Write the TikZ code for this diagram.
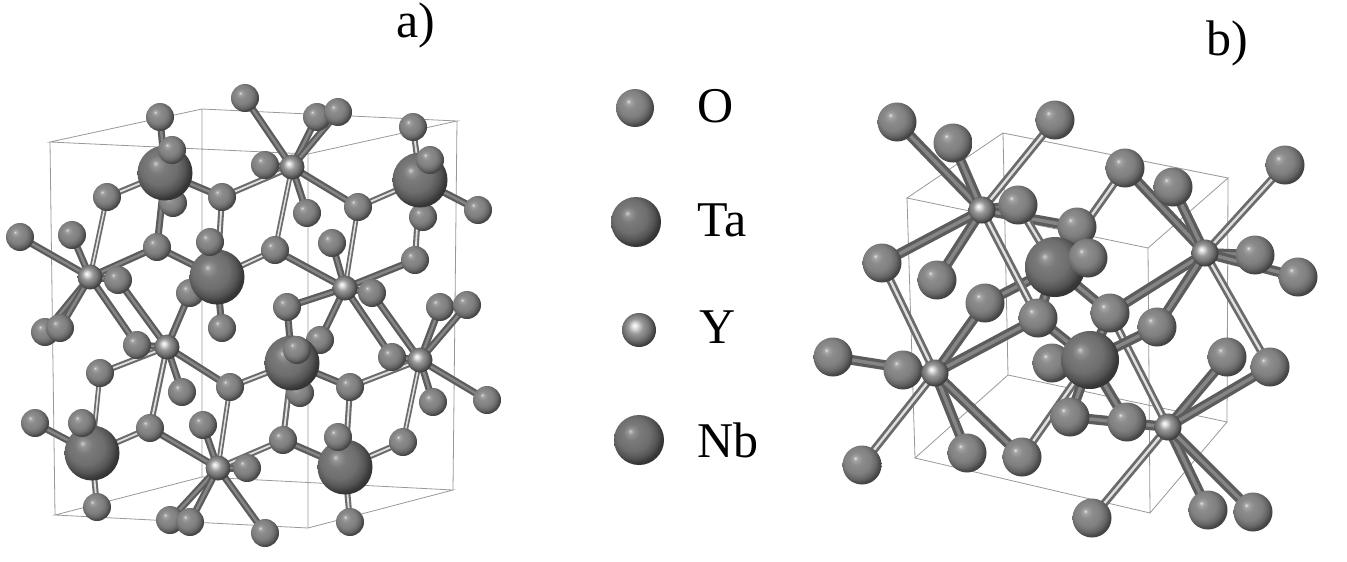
\documentclass[tikz,border=0pt]{standalone}
\usepackage{fontspec}
\setmainfont{Liberation Serif}
\pgfdeclareradialshading{oshade}{\pgfpoint{-9bp}{9bp}}{color(0bp)=(black!12); color(3bp)=(black!36); color(8bp)=(black!45); color(17bp)=(black!50); color(23bp)=(black!60); color(27bp)=(black!72); color(50bp)=(black)}
\pgfdeclareradialshading{bigshade}{\pgfpoint{-9bp}{9bp}}{color(0bp)=(black!20); color(3bp)=(black!42); color(8bp)=(black!52); color(17bp)=(black!57); color(23bp)=(black!67); color(27bp)=(black!78); color(50bp)=(black)}
\pgfdeclareradialshading{yshade}{\pgfpoint{-7bp}{7bp}}{color(0bp)=(white); color(4bp)=(black!12); color(11bp)=(black!40); color(19bp)=(black!55); color(24bp)=(black!68); color(28bp)=(black!80); color(50bp)=(black)}
\tikzset{
  oat/.style={circle,inner sep=0pt,minimum size=#1,shading=oshade},
  oat/.default=28pt,
  bigat/.style={circle,inner sep=0pt,minimum size=#1,shading=bigshade},
  bigat/.default=55pt,
  yat/.style={circle,inner sep=0pt,minimum size=#1,shading=yshade},
  yat/.default=25pt,
  bl/.style={line width=#1,draw=black!58,postaction={draw=black!12,line width=0.3*#1}},
  bl/.default=6pt,
  bd/.style={line width=#1,draw=black!64,postaction={draw=black!48,line width=0.35*#1}},
  bd/.default=7pt,
  cell/.style={draw=black!40,line width=0.8pt},
  lbl/.style={font=\fontsize{50}{60}\selectfont,anchor=base west,inner sep=0pt}
}
\begin{document}
\begin{tikzpicture}[x=1pt,y=-1pt]
\useasboundingbox (0,0) rectangle (1347,562);
\fill[white] (0,0) rectangle (1347,562);
% ================= panel a coordinates =================
\foreach \n/\x/\y in {A1/165/173,A2/217/277,A3/420/180,A4/292/363,A5/92/453,A6/345/467,
 Y1/292/167,Y2/90/277,Y3/345/288,Y4/167/347,Y5/420/360,Y6/218/468,
 o1/160/117,o2/245/98,o3/317/117,o4/338/112,o5/413/127,o6/172/150,o7/107/197,o8/222/197,
 o9/265/165,o10/307/213,o11/358/207,o12/430/160,o13/423/217,o14/478/210,o15/20/237,o16/72/235,
 o17/157/247,o18/210/242,o19/275/250,o20/332/243,o21/415/260,o22/118/280,o23/173/203,o24/190/293,
 o25/222/328,o26/45/332,o27/60/328,o28/287/307,o29/372/293,o30/440/307,o31/467/305,o32/137/345,
 o33/297/350,o34/320/340,o35/392/357,o36/100/373,o37/182/392,o38/230/387,o39/350/387,o40/300/393,
 o41/433/402,o42/487/400,o43/35/423,o44/82/423,o45/150/428,o46/203/425,o47/283/440,o48/338/437,
 o49/403/442,o50/247/468,o51/97/507,o52/170/520,o53/190/522,o54/265/533,o55/350/522}
 {\coordinate (\n) at (\x,\y);}
% cell a
\coordinate (ca1) at (50,142); \coordinate (ca2) at (202,109); \coordinate (ca3) at (457,121); \coordinate (ca4) at (308,154);
\coordinate (ca5) at (55,515); \coordinate (ca6) at (202,477); \coordinate (ca7) at (453,490); \coordinate (ca8) at (308,528);
\draw[cell] (ca1)--(ca2)--(ca3)--(ca4)--cycle (ca5)--(ca6)--(ca7)--(ca8)--cycle
  (ca1)--(ca5) (ca2)--(ca6) (ca3)--(ca7) (ca4)--(ca8);
% bonds a
\foreach \a/\b in {A1/o1,A1/o8,A1/o17,A1/o23,A1/o6,Y1/o2,Y1/o3,Y1/o4,Y1/o9,Y1/o10,Y1/o11,
 A3/o14,A3/o12,A3/o13,Y2/o15,Y2/o16,Y2/o17,Y2/o22,Y2/o26,Y2/o27,Y2/o32,A2/o17,A2/o18,A2/o24,A2/o25,
 o19/Y3,Y3/o20,Y3/o21,Y3/o29,Y3/o34,Y3/o28,Y3/o35,Y4/o32,Y4/o37,Y4/o38,Y4/o24,Y4/o22,
 A4/o28,A4/o33,A4/o39,A4/o40,Y5/o30,Y5/o31,Y5/o35,Y5/o41,Y5/o42,Y5/o29,A5/o43,A5/o44,o45/Y6,
 Y6/o46,Y6/o50,Y6/o52,Y6/o53,Y6/o54,o47/A6,A6/o48}
 {\draw[bd] (\a)--(\b);}
\foreach \a/\b in {A1/o7,o8/Y1,o8/A2,A3/o5,A3/o11,A3/o21,A2/o19,Y4/o36,Y4/o45,o38/A4,A4/o47,
 Y5/o39,A5/o45,A5/o51,Y6/o47,A6/o49,A6/o55,A6/o39}
 {\draw[bl] (\a)--(\b);}
\foreach \a/\b in {o7/Y2,Y1/o19,o11/Y3,o38/Y6,Y5/o49,o36/A5}
 {\draw[bl=5pt] (\a)--(\b);}
% atoms a (back)
\foreach \n in {o23,o13,o24,o40,o50,o1,o2,o3,o4,o5,o7,o8,o9,o10,o11,o14,o15,o16,o17,o19,o20,o21,o22,
 o25,o26,o27,o28,o29,o30,o31,o32,o34,o35,o36,o37,o38,o39,o41,o42,o43,o45,o46,o47,o49,o51,o52,o53,o54,o55}
 {\node[oat] (n\n) at (\n) {};}
\foreach \n in {A1,A2,A3,A4,A5,A6} {\node[bigat] (n\n) at (\n) {};}
\foreach \n in {o6,o12,o18,o33,o44,o48} {\node[oat] (n\n) at (\n) {};}
\foreach \n in {Y1,Y2,Y3,Y4,Y5,Y6} {\node[yat] (n\n) at (\n) {};}
% ================= legend =================
\node[oat=38pt] (lo) at (635,108) {};
\node[bigat=50pt] (lta) at (636,222) {};
\node[yat=34pt] (ly) at (639,330) {};
\node[bigat=50pt] (lnb) at (639,440) {};
\node[lbl] (to) at (697,122) {O};
\node[lbl] (tta) at (697,236) {Ta};
\node[lbl] (ty) at (699,343) {Y};
\node[lbl] (tnb) at (697,457) {Nb};
\node[lbl] (la) at (396,37) {a)};
\node[lbl] (lb) at (1206,55) {b)};
% ================= panel b =================
\foreach \n/\x/\y in {T1/1055/267,T2/1090/360,Q1/982/210,Q2/1205/253,Q3/935/373,Q4/1168/427,
 p1/897/122,p2/953/143,p3/1055/120,p4/1125/168,p5/1173/187,p6/1285/165,p7/1018/205,p8/1077/227,
 p9/1088/258,p10/882/263,p11/937/280,p12/1255/255,p13/1298/277,p14/985/303,p15/1038/318,p16/1110/313,
 p17/1157/327,p18/833/357,p19/903/370,p20/1052/363,p21/1227/357,p22/1270/367,p23/1070/417,p24/1127/422,
 p25/967/453,p26/1022/457,p27/862/465,p28/1092/518,p29/1208/510,p30/1253/512}
 {\coordinate (\n) at (\x,\y);}
\coordinate (cb1) at (907,198); \coordinate (cb2) at (1003,133); \coordinate (cb3) at (1228,178); \coordinate (cb4) at (1148,248);
\coordinate (cb5) at (915,458); \coordinate (cb6) at (1008,375); \coordinate (cb7) at (1227,422); \coordinate (cb8) at (1150,513);
\draw[cell] (cb1)--(cb2)--(cb3)--(cb4)--cycle (cb5)--(cb6)--(cb7)--(cb8)--cycle
  (cb1)--(cb5) (cb2)--(cb6) (cb3)--(cb7) (cb4)--(cb8);
\foreach \a/\b in {T2/p26,Q4/p28,Q4/p16}
 {\draw[bl=8pt] (\a)--(\b);}
\foreach \a/\b in {Q1/p1,Q1/p2,Q1/p10,Q1/p11,Q1/p7,Q1/p8,T1/p14,T1/p15,T1/p9,T1/p16,p4/Q2,
 Q2/p5,Q2/p12,Q2/p13,Q2/p16,Q2/p17,Q3/p18,Q3/p19,Q3/p14,Q3/p15,Q3/p25,Q3/p26,
 T2/p16,T2/p20,T2/p23,T2/p24,T2/p17,T2/p15,p23/Q4,Q4/p21,Q4/p22,Q4/p29,Q4/p30}
 {\draw[bd=10pt] (\a)--(\b);}
\foreach \a/\b in {Q1/p3,Q1/p15,T1/p4,T1/p7,Q2/p6,Q2/p22,p10/Q3,Q3/p27}
 {\draw[bl=8pt] (\a)--(\b);}
\foreach \n in {p8,p20,p1,p2,p3,p4,p5,p6,p7,p10,p11,p12,p13,p14,p15,p16,p17,p18,p19,p21,p22,
 p23,p24,p25,p26,p27,p28,p29,p30}
 {\node[oat=39pt] (n\n) at (\n) {};}
\node[bigat=58pt] (nT2) at (T2) {};
\node[bigat=60pt] (nT1) at (T1) {};
\node[oat=39pt] (np9) at (p9) {};
\foreach \n in {Q1,Q2,Q3,Q4} {\node[yat=27pt] (n\n) at (\n) {};}
\end{tikzpicture}
\end{document}
